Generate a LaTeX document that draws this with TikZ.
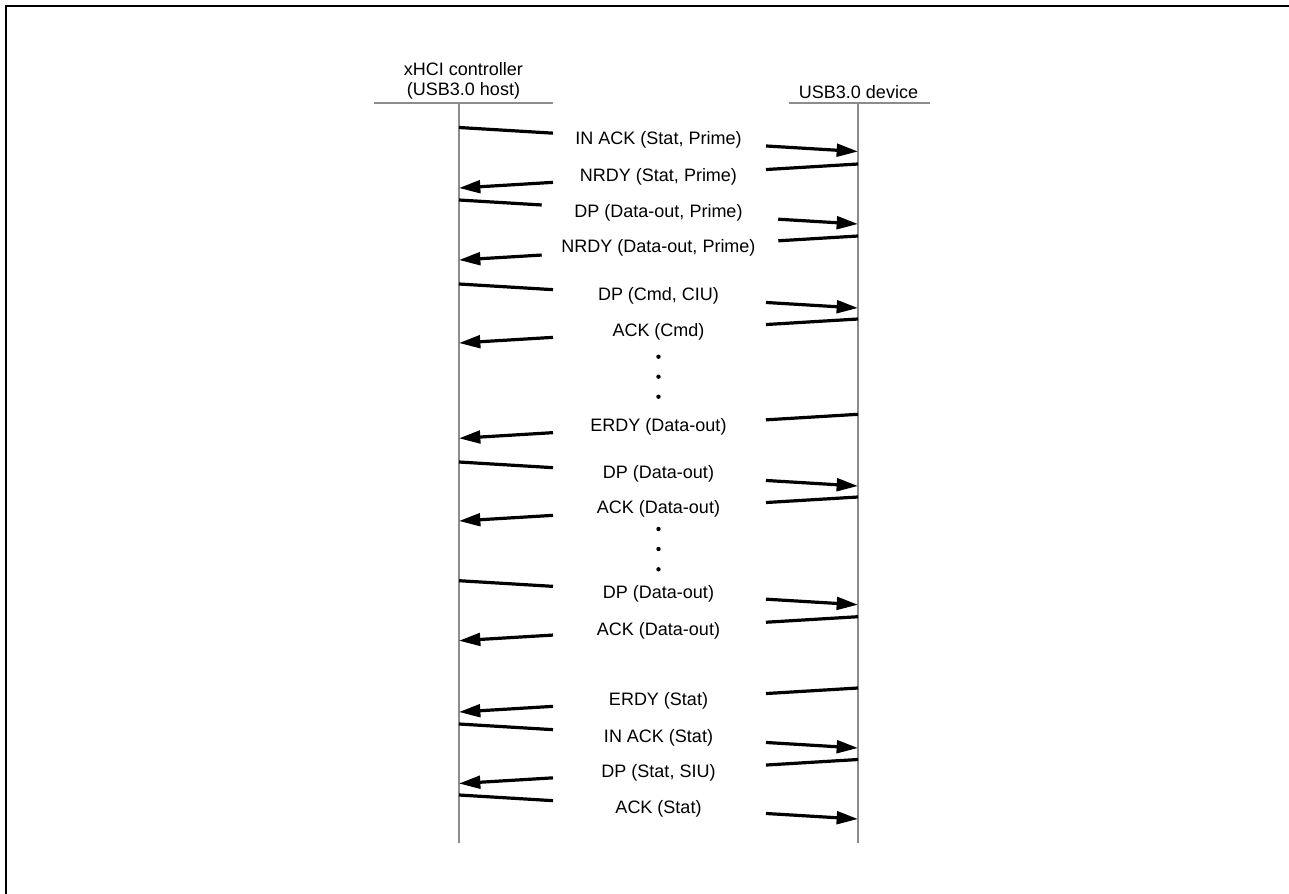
\documentclass[tikz,border=0pt]{standalone}
\usepackage{fontspec}
\setmainfont{Liberation Sans}
\usetikzlibrary{arrows.meta,calc}
\definecolor{lifegray}{RGB}{140,140,140}
\tikzset{
  lifeline/.style={draw=lifegray, line width=1.5pt},
  msg/.style={draw=black, line width=2.4pt},
  msgtip/.style={msg, -{Triangle[length=16pt,width=9.5pt]}},
  lbl/.style={inner sep=0pt, font=\fontsize{13.5}{14.5}\selectfont, align=center},
  dotmark/.style={circle, fill=black, inner sep=0pt, minimum size=3.3pt},
  frame/.style={draw=black, line width=1.8pt}
}
\newcommand\ToDevice[6]{%
  \coordinate (h#1) at (459,#2);
  \coordinate (d#1) at (858,#2+24);
  \node[lbl] (t#1) at (658.5,#4) {#3};
  \draw[msg] (h#1) -- ($(h#1)!#5!(d#1)$);
  \draw[msgtip] ($(h#1)!#6!(d#1)$) -- (d#1);
}
\newcommand\ToHost[6]{%
  \coordinate (d#1) at (858,#2);
  \coordinate (h#1) at (459,#2+24);
  \node[lbl] (t#1) at (658.5,#4) {#3};
  \draw[msg] (d#1) -- ($(d#1)!#5!(h#1)$);
  \draw[msgtip] ($(d#1)!#6!(h#1)$) -- (h#1);
}
\begin{document}
\begin{tikzpicture}[x=0.75pt, y=-0.75pt]
\useasboundingbox (0,0) rectangle (1289,893);
% frame
\coordinate (fbl) at (6,900);
\coordinate (ftl) at (6,6);
\coordinate (ftr) at (1300,6);
\draw[frame] (fbl) -- (ftl) -- (ftr);
% headers
\coordinate (hl1) at (374,103);
\coordinate (hl2) at (553,103);
\coordinate (dl1) at (789,103);
\coordinate (dl2) at (930,103);
\draw[lifeline] (hl1) -- (hl2);
\draw[lifeline] (dl1) -- (dl2);
\node[lbl] (hosttitle) at (463.5,81) {xHCI controller\\(USB3.0 host)};
\node[lbl] (devtitle) at (858.5,92) {USB3.0 device};
% lifelines
\coordinate (hostTop) at (459,103);
\coordinate (hostBot) at (459,843);
\coordinate (devTop) at (858,103);
\coordinate (devBot) at (858,843);
\draw[lifeline] (hostTop) -- (hostBot);
\draw[lifeline] (devTop) -- (devBot);
% messages
\ToDevice{1}{127.5}{IN ACK (Stat, Prime)}{139.5}{0.2356}{0.7694}
\ToHost{2}{164}{NRDY (Stat, Prime)}{177}{0.2306}{0.7644}
\ToDevice{3}{200}{DP (Data-out, Prime)}{212.5}{0.2073}{0.8}
\ToHost{4}{236}{NRDY (Data-out, Prime)}{248}{0.1997}{0.7927}
\ToDevice{5}{284}{DP (Cmd, CIU)}{296}{0.2356}{0.7694}
\ToHost{6}{319}{ACK (Cmd)}{331.5}{0.2306}{0.7644}
\ToHost{7}{414.3}{ERDY (Data-out)}{427}{0.2306}{0.7644}
\ToDevice{8}{462}{DP (Data-out)}{474}{0.2356}{0.7694}
\ToHost{9}{497}{ACK (Data-out)}{509}{0.2306}{0.7644}
\ToDevice{10}{580.7}{DP (Data-out)}{593.5}{0.2356}{0.7694}
\ToHost{11}{616.7}{ACK (Data-out)}{630.5}{0.2306}{0.7644}
\ToHost{12}{688}{ERDY (Stat)}{700.5}{0.2306}{0.7644}
\ToDevice{13}{724}{IN ACK (Stat)}{737.5}{0.2356}{0.7694}
\ToHost{14}{759.5}{DP (Stat, SIU)}{772.5}{0.2306}{0.7644}
\ToDevice{15}{795}{ACK (Stat)}{808.5}{0.2356}{0.7694}
% ellipsis dots
\node[dotmark] (da1) at (658.5,356.7) {};
\node[dotmark] (da2) at (658.5,376.7) {};
\node[dotmark] (da3) at (658.5,396.7) {};
\node[dotmark] (db1) at (658.5,529) {};
\node[dotmark] (db2) at (658.5,549) {};
\node[dotmark] (db3) at (658.5,569.3) {};
\end{tikzpicture}
\end{document}
